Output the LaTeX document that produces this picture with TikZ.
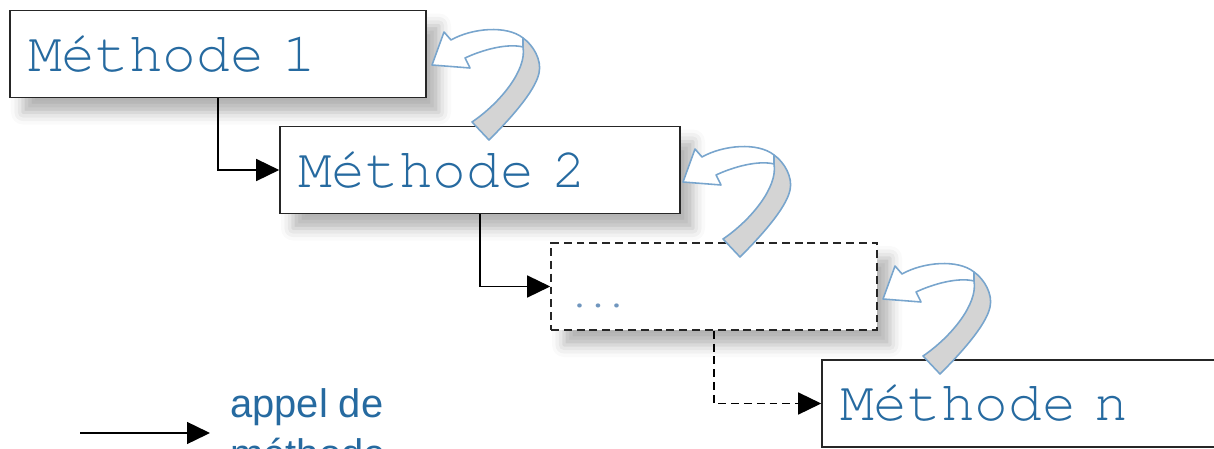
\documentclass[tikz,border=0pt]{standalone}
\usepackage{fontspec}
\setmainfont{Liberation Sans}
\newfontfamily\methfont{TeX Gyre Cursor}
\usepackage{tikz}
\usetikzlibrary{arrows.meta,shadows.blur}

\definecolor{methblue}{RGB}{38,106,160}
\definecolor{dotblue}{RGB}{112,150,190}
\definecolor{curlline}{RGB}{120,165,205}
\definecolor{curlgray}{RGB}{212,212,212}

\begin{document}
\begin{tikzpicture}[>={Triangle[length=4.6mm,width=4.4mm]},
	methbox/.style={draw=black!85, line width=0.9pt, fill=white, minimum height=1.74cm, inner xsep=0.36cm, align=left, font=\methfont\fontsize{32}{32}\selectfont, text=methblue, blur shadow={shadow xshift=0.26cm, shadow yshift=-0.3cm, shadow blur radius=0.24cm, shadow opacity=30}},
	call/.style={->, line width=0.8pt},
	curl/.style={draw=curlline, line width=0.9pt, line join=round}]
	\useasboundingbox (0,0) rectangle (24.28,-8.98);
	\node[methbox, text width=7.60cm] (m1) at (4.36,-1.08) {Méthode 1};
	\node[methbox, text width=7.28cm] (m2) at (9.60,-3.40) {Méthode 2};
	\node[methbox, text width=5.80cm, dashed, dash pattern=on 4.5pt off 2.8pt] (m3) at (14.28,-5.73) {};
	\node[anchor=base west, inner sep=0, font=\methfont\fontsize{17.5}{17.5}\selectfont, text=dotblue] (dots) at (11.40,-6.14) {...};
	\node[methbox, text width=7.64cm, blur shadow={shadow opacity=0}] (mn) at (20.62,-8.07) {Méthode n};
	\draw[call] (m1.south) |- (m2.west);
	\draw[call] (m2.south) |- (m3.west);
	\draw[call, dash pattern=on 4.5pt off 2.8pt] (m3.south) |- (mn.west);
	% curved recursion arrows
	\foreach \cx/\cy in {8.64/-1.30, 13.66/-3.64, 17.66/-5.98} {
		\begin{scope}[shift={(\cx cm,\cy cm)}, x=0.02cm, y=-0.02cm]
			\filldraw[curl, fill=white] (0,0) -- (12,-33) -- (19,-25) .. controls (40,-37) and (75,-40) .. (91,-27) -- (91,-18) .. controls (75,-22) and (50,-15) .. (33,-7) -- (38,3) -- cycle;
			\filldraw[curl, fill=curlgray] (91,-27) .. controls (101,-20) and (110,-5) .. (107,8) .. controls (103,27) and (76,56) .. (57,75) -- (40,57) .. controls (68,38) and (95,5) .. (91,-18) -- cycle;
		\end{scope}
	}
	% legend
	\coordinate (legA) at (1.60,-8.66);
	\coordinate (legB) at (4.20,-8.66);
	\draw[call] (legA) -- (legB);
	\node[anchor=north west, inner sep=0, align=left, font=\fontsize{22.7}{28.4}\selectfont, text=methblue] (legtext) at (4.60,-7.76) {appel de\\méthode};
\end{tikzpicture}
\end{document}
